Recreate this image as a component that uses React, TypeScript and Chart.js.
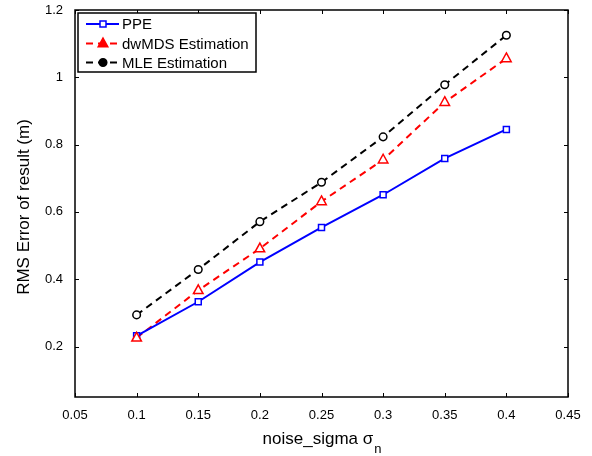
import React, { useEffect, useRef } from "react";
import { Chart, registerables } from "chart.js";

Chart.register(...registerables);

const xValues = [0.1, 0.15, 0.2, 0.25, 0.3, 0.35, 0.4];
const ppeValues = [0.232, 0.333, 0.451, 0.554, 0.651, 0.759, 0.845];
const dwmdsValues = [0.226, 0.367, 0.491, 0.631, 0.755, 0.926, 1.056];
const mleValues = [0.294, 0.429, 0.571, 0.688, 0.823, 0.978, 1.125];

const xTicks = [0.05, 0.1, 0.15, 0.2, 0.25, 0.3, 0.35, 0.4, 0.45];
const xTickLabels = ["0.05", "0.1", "0.15", "0.2", "0.25", "0.3", "0.35", "0.4", "0.45"];
const yTicks = [0.2, 0.4, 0.6, 0.8, 1, 1.2];
const yTickLabels = ["0.2", "0.4", "0.6", "0.8", "1", "1.2"];

const seriesLabels = ["PPE", "dwMDS Estimation", "MLE Estimation"];
const xTitle = "noise_sigma σ";
const xTitleSub = "n";
const yTitle = "RMS Error of result (m)";

const FONT = "'Liberation Sans', Arial, Helvetica, sans-serif";

function drawMarker(ctx: CanvasRenderingContext2D, style: string, x: number, y: number, color: string, filled: boolean) {
  ctx.save();
  ctx.strokeStyle = color;
  ctx.lineWidth = 1.5;
  ctx.setLineDash([]);
  ctx.fillStyle = filled ? color : "#ffffff";
  ctx.beginPath();
  if (style === "rect") {
    ctx.rect(x - 3, y - 3, 6, 6);
  } else if (style === "triangle") {
    const r = 5.5;
    ctx.moveTo(x, y - r);
    ctx.lineTo(x + r * 0.87, y + r * 0.5 + 0.5);
    ctx.lineTo(x - r * 0.87, y + r * 0.5 + 0.5);
    ctx.closePath();
  } else {
    ctx.arc(x, y, 3.8, 0, Math.PI * 2);
  }
  ctx.fill();
  ctx.stroke();
  ctx.restore();
}

const framePlugin = {
  id: "matlabFrame",
  afterDatasetsDraw(chart: any) {
    const { ctx, chartArea, scales } = chart;
    const { left, right, top, bottom } = chartArea;
    const xs = scales.x;
    const ys = scales.y;
    ctx.save();
    ctx.strokeStyle = "#000";
    ctx.lineWidth = 1.5;
    ctx.setLineDash([]);
    ctx.strokeRect(left, top, right - left, bottom - top);
    const tl = 4;
    ctx.lineWidth = 1;
    ctx.beginPath();
    xTicks.forEach((v) => {
      const px = Math.round(xs.getPixelForValue(v)) + 0.5;
      ctx.moveTo(px, bottom);
      ctx.lineTo(px, bottom - tl);
      ctx.moveTo(px, top);
      ctx.lineTo(px, top + tl);
    });
    yTicks.forEach((v) => {
      const py = Math.round(ys.getPixelForValue(v)) + 0.5;
      ctx.moveTo(left, py);
      ctx.lineTo(left + tl, py);
      ctx.moveTo(right, py);
      ctx.lineTo(right - tl, py);
    });
    ctx.stroke();

    // axis titles
    ctx.fillStyle = "#000";
    ctx.font = `17px ${FONT}`;
    ctx.textBaseline = "alphabetic";
    ctx.textAlign = "left";
    const mainW = ctx.measureText(xTitle).width;
    ctx.font = `13px ${FONT}`;
    const subW = ctx.measureText(xTitleSub).width;
    const cx = (left + right) / 2;
    const startX = cx - (mainW + subW) / 2;
    ctx.font = `17px ${FONT}`;
    ctx.fillText(xTitle, startX, 444);
    ctx.font = `13px ${FONT}`;
    ctx.fillText(xTitleSub, startX + mainW + 1, 453);

    ctx.save();
    ctx.translate(29, 207);
    ctx.rotate(-Math.PI / 2);
    ctx.font = `17px ${FONT}`;
    ctx.textAlign = "center";
    ctx.fillText(yTitle, 0, 0);
    ctx.restore();

    // legend
    const lx = 78, ly = 13, lw = 178, lh = 59;
    ctx.fillStyle = "#fff";
    ctx.fillRect(lx, ly, lw, lh);
    ctx.strokeStyle = "#000";
    ctx.lineWidth = 1.5;
    ctx.strokeRect(lx, ly, lw, lh);
    const rowY = [24, 43.5, 62.5];
    chart.data.datasets.forEach((ds: any, i: number) => {
      const y = rowY[i];
      ctx.save();
      ctx.strokeStyle = ds.borderColor;
      ctx.lineWidth = ds.borderWidth;
      ctx.setLineDash(ds.borderDash || []);
      ctx.beginPath();
      ctx.moveTo(86, y);
      ctx.lineTo(119, y);
      ctx.stroke();
      ctx.restore();
      drawMarker(ctx, ds.pointStyle, 103, y, ds.borderColor, ds.pointStyle !== "rect");
      ctx.fillStyle = "#000";
      ctx.font = `15px ${FONT}`;
      ctx.textAlign = "left";
      ctx.textBaseline = "middle";
      ctx.fillText(ds.label, 122, y + 1);
    });
    ctx.restore();
  },
};

const markerPlugin = {
  id: "customMarkers",
  afterDatasetsDraw(chart: any) {
    const { ctx } = chart;
    chart.data.datasets.forEach((ds: any, i: number) => {
      const meta = chart.getDatasetMeta(i);
      meta.data.forEach((pt: any) => {
        drawMarker(ctx, ds.pointStyle, pt.x, pt.y, ds.borderColor, false);
      });
    });
  },
};

export default function App() {
  const ref = useRef<HTMLCanvasElement | null>(null);
  useEffect(() => {
    if (!ref.current) return;
    const mk = (vals: number[]) => xValues.map((x, i) => ({ x, y: vals[i] }));
    const chart = new Chart(ref.current, {
      type: "line",
      data: {
        datasets: [
          {
            label: seriesLabels[0],
            data: mk(ppeValues),
            borderColor: "#0000ff",
            borderWidth: 2,
            pointStyle: "rect",
            pointRadius: 0,
            borderDash: [],
          },
          {
            label: seriesLabels[1],
            data: mk(dwmdsValues),
            borderColor: "#ff0000",
            borderWidth: 2,
            pointStyle: "triangle",
            pointRadius: 0,
            borderDash: [7, 5],
          },
          {
            label: seriesLabels[2],
            data: mk(mleValues),
            borderColor: "#000000",
            borderWidth: 2,
            pointStyle: "circle",
            pointRadius: 0,
            borderDash: [7, 5],
          },
        ] as any,
      },
      options: {
        animation: false,
        responsive: false,
        maintainAspectRatio: false,
        layout: { padding: { top: 10, right: 24, left: 0, bottom: 0 } },
        plugins: { legend: { display: false }, tooltip: { enabled: false }, title: { display: false } },
        scales: {
          x: {
            type: "linear",
            min: 0.05,
            max: 0.45,
            grid: { display: false, drawTicks: false },
            border: { display: false },
            ticks: {
              padding: 11,
              color: "#000",
              font: { family: FONT, size: 13 },
              maxRotation: 0,
              autoSkip: false,
              callback: (v: any) => {
                const i = xTicks.findIndex((t) => Math.abs(t - v) < 1e-6);
                return i >= 0 ? xTickLabels[i] : "";
              },
            },
            afterBuildTicks: (s: any) => {
              s.ticks = xTicks.map((v) => ({ value: v }));
            },
            afterFit: (s: any) => {
              s.height = 59;
              s.paddingLeft = 0;
              s.paddingRight = 0;
            },
          },
          y: {
            type: "linear",
            min: 0.05,
            max: 1.2,
            grid: { display: false, drawTicks: false },
            border: { display: false },
            ticks: {
              padding: 12,
              color: "#000",
              font: { family: FONT, size: 13 },
              autoSkip: false,
              callback: (v: any) => {
                const i = yTicks.findIndex((t) => Math.abs(t - v) < 1e-6);
                return i >= 0 ? yTickLabels[i] : "";
              },
            },
            afterBuildTicks: (s: any) => {
              s.ticks = yTicks.map((v) => ({ value: v }));
            },
            afterFit: (s: any) => {
              s.width = 75;
              s.paddingTop = 0;
              s.paddingBottom = 0;
            },
          },
        },
      },
      plugins: [markerPlugin, framePlugin],
    });
    return () => chart.destroy();
  }, []);
  return (
    <div style={{ position: "fixed", left: 0, top: 0, width: 592, height: 456, background: "#fff" }}>
      <canvas ref={ref} width={592} height={456} style={{ width: 592, height: 456 }} />
    </div>
  );
}
